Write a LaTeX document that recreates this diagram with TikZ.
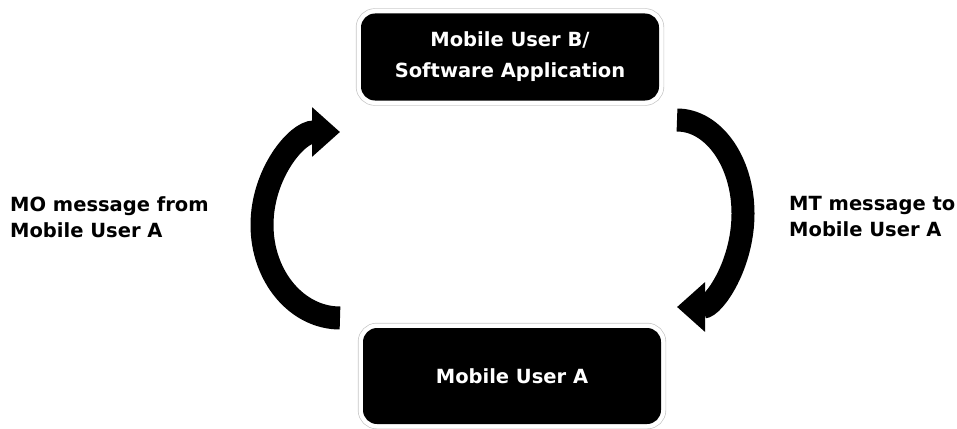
\documentclass[tikz,border=0pt]{standalone}
\usepackage{fontspec}
\setmainfont{DejaVu Sans}
\usetikzlibrary{arrows.meta}

\begin{document}
\begin{tikzpicture}[x=1pt,y=-1pt,
		msgbox/.style={fill=black,rounded corners=14pt,minimum width=298pt,
			text=white,align=center,font=\bfseries\fontsize{19.5}{31}\selectfont,
			preaction={draw=gray!45,line width=0.7pt,double=white,double distance=9pt}},
		msglabel/.style={anchor=west,inner sep=0pt,align=left,
			font=\bfseries\fontsize{19.5}{26}\selectfont},
		flow/.style={line width=23pt,-{Triangle[width=48pt,length=28pt]}}]
		
		\useasboundingbox (0,0) rectangle (957,428);
		
		%boxes
		\node[msgbox,minimum height=87pt] (appB) at (510,57) {Mobile User B/\\Software Application};
		\node[msgbox,minimum height=96pt] (userA) at (512,376) {Mobile User A};
		
		%labels
		\node[msglabel] (moLabel) at (10,217) {MO message from\\Mobile User A};
		\node[msglabel] (mtLabel) at (789,217) {MT message to\\Mobile User A};
		
		%arrows
		\coordinate (moTail) at (340,318);
		\coordinate (mtTail) at (677,120);
		\draw[flow] (moTail) arc[start angle=90,end angle=270,x radius=78,y radius=93];
		\draw[flow] (mtTail) arc[start angle=-90,end angle=90,x radius=66,y radius=93.5];
		
	\end{tikzpicture}
\end{document}
